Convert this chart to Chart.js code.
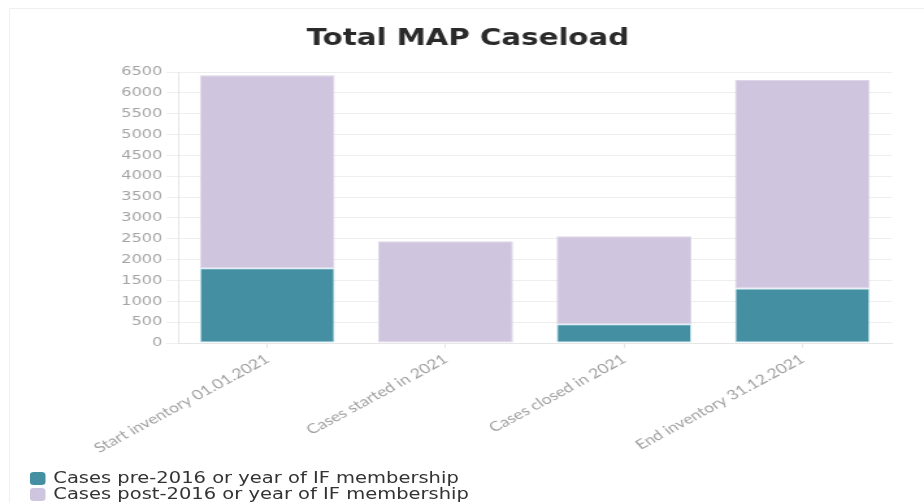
<!DOCTYPE html>
<html>
<head>
<meta charset="utf-8">
<script src="https://cdn.jsdelivr.net/npm/chart.js@4"></script>
<style>
  html, body { margin: 0; padding: 0; background: #fff; overflow: hidden; }
  #frame { position: absolute; left: 9px; top: 8px; width: 915px; height: 495px;
           border-top: 1px solid #f0f0f0; border-left: 1px solid #f0f0f0; }
  /* the reference is horizontally stretched, so draw narrow and scale up */
  #wrap { position: absolute; left: 0; top: 0; width: 711px; height: 503px;
          transform: scaleX(1.2996); transform-origin: 0 0; }
  #legend { position: absolute; left: 23px; top: 470px; font-family: "DejaVu Sans", sans-serif;
            font-size: 15px; color: #333; line-height: 16px; }
  .legend-row { display: flex; align-items: center; white-space: nowrap; }
  .legend-dot { display: inline-block; width: 12px; height: 13px; border-radius: 3px; margin-right: 6px; }
</style>
</head>
<body>
<div id="frame"></div>
<div id="wrap">
  <canvas id="caseloadBar" width="711" height="503"></canvas>
  <div id="legend"></div>
</div>
<script>
const categories = ["Start inventory 01.01.2021", "Cases started in 2021", "Cases closed in 2021", "End inventory 31.12.2021"];
const preValues = [1790, 0, 450, 1310];
const postValues = [4630, 2440, 2110, 5000];
const seriesLabels = ["Cases pre-2016 or year of IF membership", "Cases post-2016 or year of IF membership"];
const colors = ["#458fa3", "#cfc5de"];
const borderColors = ["#c4e6ee", "#ddd6e8"];

const ctx = document.getElementById("caseloadBar").getContext("2d");

const chart = new Chart(ctx, {
  type: "bar",
  data: {
    labels: categories,
    datasets: [preValues, postValues].map((vals, i) => ({
      label: seriesLabels[i],
      data: vals,
      backgroundColor: colors[i],
      borderColor: borderColors[i],
      borderWidth: 1,
      borderSkipped: false,
      categoryPercentage: 0.84,
      barPercentage: 0.9
    }))
  },
  options: {
    responsive: false,
    animation: false,
    layout: { padding: { left: 34, right: 25, top: 12, bottom: 40 } },
    plugins: {
      legend: { display: false },
      tooltip: { enabled: false },
      title: {
        display: true,
        text: "Total MAP Caseload",
        color: "#2a2a2a",
        font: { family: "DejaVu Sans", size: 22.5, weight: "bold" },
        padding: { top: 14, bottom: 19 }
      }
    },
    scales: {
      x: {
        stacked: true,
        afterFit: s => { s.height = 120; },
        grid: { offset: false, drawOnChartArea: false, tickLength: 5, color: "#e6e6e6" },
        border: { color: "#e6e6e6" },
        ticks: {
          color: "#a0a0a0",
          font: { family: "Lato", size: 13.5 },
          minRotation: 35,
          maxRotation: 35,
          padding: 3
        }
      },
      y: {
        stacked: true,
        min: 0,
        max: 6500,
        afterFit: s => { s.width = 103; },
        grid: { color: "#eeeeee", tickLength: 9 },
        border: { color: "#e6e6e6" },
        ticks: {
          stepSize: 500,
          color: "#a4a4a4",
          font: { family: "DejaVu Sans", size: 12.5 },
          padding: 3,
          callback: v => String(v)
        }
      }
    }
  }
});

// html legend, one item per row
document.getElementById("legend").innerHTML = chart.data.datasets.map(ds => `
  <div class="legend-row">
    <span class="legend-dot" style="background:${ds.backgroundColor};"></span>${ds.label}
  </div>`).join("");
</script>
</body>
</html>
